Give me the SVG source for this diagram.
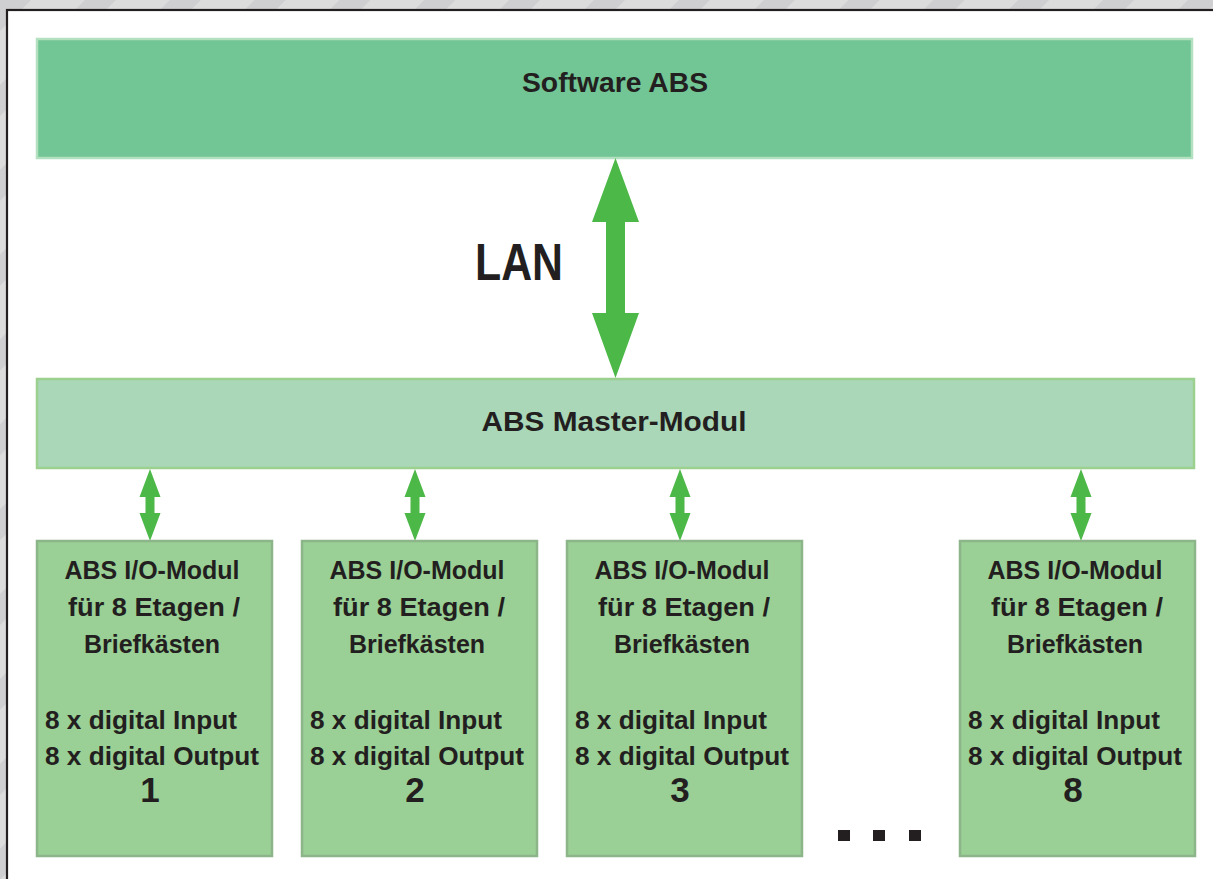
<svg xmlns="http://www.w3.org/2000/svg" width="1213" height="879" viewBox="0 0 1213 879">
  <defs>
    <pattern id="stripes" width="60" height="60" patternUnits="userSpaceOnUse" patternTransform="rotate(45)">
      <rect width="60" height="60" fill="#dcdcdd"/>
      <rect width="22" height="60" fill="#cfcfd1"/>
    </pattern>
    <path id="smallArrow" d="M0,469 L10.5,497 L4.5,497 L4.5,513 L10.5,513 L0,541 L-10.5,513 L-4.5,513 L-4.5,497 L-10.5,497 Z"/>
  </defs>
  <style>
    .t { font-family: "Liberation Sans", Arial, sans-serif; font-weight: bold; fill: #231f20; }
    .mod { font-size: 25px; text-anchor: middle; }
    .io { font-size: 25px; }
    .num { font-size: 35px; text-anchor: middle; }
    .iobox { fill: #9ad095; stroke: #8db58a; stroke-width: 2.5; }
    .arrow { fill: #4cb848; }
  </style>

  <rect width="1213" height="879" fill="url(#stripes)"/>
  <rect x="7" y="10" width="1230" height="900" fill="#ffffff" stroke="#231f20" stroke-width="2.2"/>

  <g id="software">
    <rect x="37" y="39" width="1155" height="119" fill="#72c594" stroke="#b3e0bf" stroke-width="2.5"/>
    <text class="t" x="615" y="92" font-size="28" text-anchor="middle" textLength="186" lengthAdjust="spacingAndGlyphs">Software ABS</text>
  </g>

  <g id="master">
    <rect x="37" y="379" width="1157" height="89" fill="#a9d7b8" stroke="#9cd08f" stroke-width="2.5"/>
    <text class="t" x="614" y="431" font-size="28" text-anchor="middle" textLength="265" lengthAdjust="spacingAndGlyphs">ABS Master-Modul</text>
  </g>

  <g id="lan-label">
    <text class="t" x="475" y="280" font-size="52" textLength="88" lengthAdjust="spacingAndGlyphs">LAN</text>
  </g>

  <g id="connectors">
    <path class="arrow" d="M615.5,158 L639,222 L625,222 L625,313 L639,313 L615.5,378 L592,313 L606,313 L606,222 L592,222 Z"/>
    <use href="#smallArrow" class="arrow" x="150"/>
    <use href="#smallArrow" class="arrow" x="415"/>
    <use href="#smallArrow" class="arrow" x="680"/>
    <use href="#smallArrow" class="arrow" x="1081"/>
  </g>

  <g id="io1">
    <rect class="iobox" x="37" y="541" width="235" height="315"/>
    <text class="t mod" x="152" y="579" textLength="175" lengthAdjust="spacingAndGlyphs">ABS I/O-Modul</text>
    <text class="t mod" x="154" y="616" textLength="172" lengthAdjust="spacingAndGlyphs">für 8 Etagen /</text>
    <text class="t mod" x="152" y="653">Briefkästen</text>
    <text class="t io" x="45" y="729" textLength="192" lengthAdjust="spacingAndGlyphs">8 x digital Input</text>
    <text class="t io" x="45" y="765" textLength="214" lengthAdjust="spacingAndGlyphs">8 x digital Output</text>
    <text class="t num" x="150" y="802">1</text>
  </g>

  <g id="io2">
    <rect class="iobox" x="302" y="541" width="235" height="315"/>
    <text class="t mod" x="417" y="579" textLength="175" lengthAdjust="spacingAndGlyphs">ABS I/O-Modul</text>
    <text class="t mod" x="419" y="616" textLength="172" lengthAdjust="spacingAndGlyphs">für 8 Etagen /</text>
    <text class="t mod" x="417" y="653">Briefkästen</text>
    <text class="t io" x="310" y="729" textLength="192" lengthAdjust="spacingAndGlyphs">8 x digital Input</text>
    <text class="t io" x="310" y="765" textLength="214" lengthAdjust="spacingAndGlyphs">8 x digital Output</text>
    <text class="t num" x="415" y="802">2</text>
  </g>

  <g id="io3">
    <rect class="iobox" x="567" y="541" width="235" height="315"/>
    <text class="t mod" x="682" y="579" textLength="175" lengthAdjust="spacingAndGlyphs">ABS I/O-Modul</text>
    <text class="t mod" x="684" y="616" textLength="172" lengthAdjust="spacingAndGlyphs">für 8 Etagen /</text>
    <text class="t mod" x="682" y="653">Briefkästen</text>
    <text class="t io" x="575" y="729" textLength="192" lengthAdjust="spacingAndGlyphs">8 x digital Input</text>
    <text class="t io" x="575" y="765" textLength="214" lengthAdjust="spacingAndGlyphs">8 x digital Output</text>
    <text class="t num" x="680" y="802">3</text>
  </g>

  <g id="dots" fill="#231f20">
    <rect x="838" y="830" width="12" height="11"/>
    <rect x="873" y="830" width="12" height="11"/>
    <rect x="909" y="830" width="12" height="11"/>
  </g>

  <g id="io8">
    <rect class="iobox" x="960" y="541" width="235" height="315"/>
    <text class="t mod" x="1075" y="579" textLength="175" lengthAdjust="spacingAndGlyphs">ABS I/O-Modul</text>
    <text class="t mod" x="1077" y="616" textLength="172" lengthAdjust="spacingAndGlyphs">für 8 Etagen /</text>
    <text class="t mod" x="1075" y="653">Briefkästen</text>
    <text class="t io" x="968" y="729" textLength="192" lengthAdjust="spacingAndGlyphs">8 x digital Input</text>
    <text class="t io" x="968" y="765" textLength="214" lengthAdjust="spacingAndGlyphs">8 x digital Output</text>
    <text class="t num" x="1073" y="802">8</text>
  </g>
</svg>
